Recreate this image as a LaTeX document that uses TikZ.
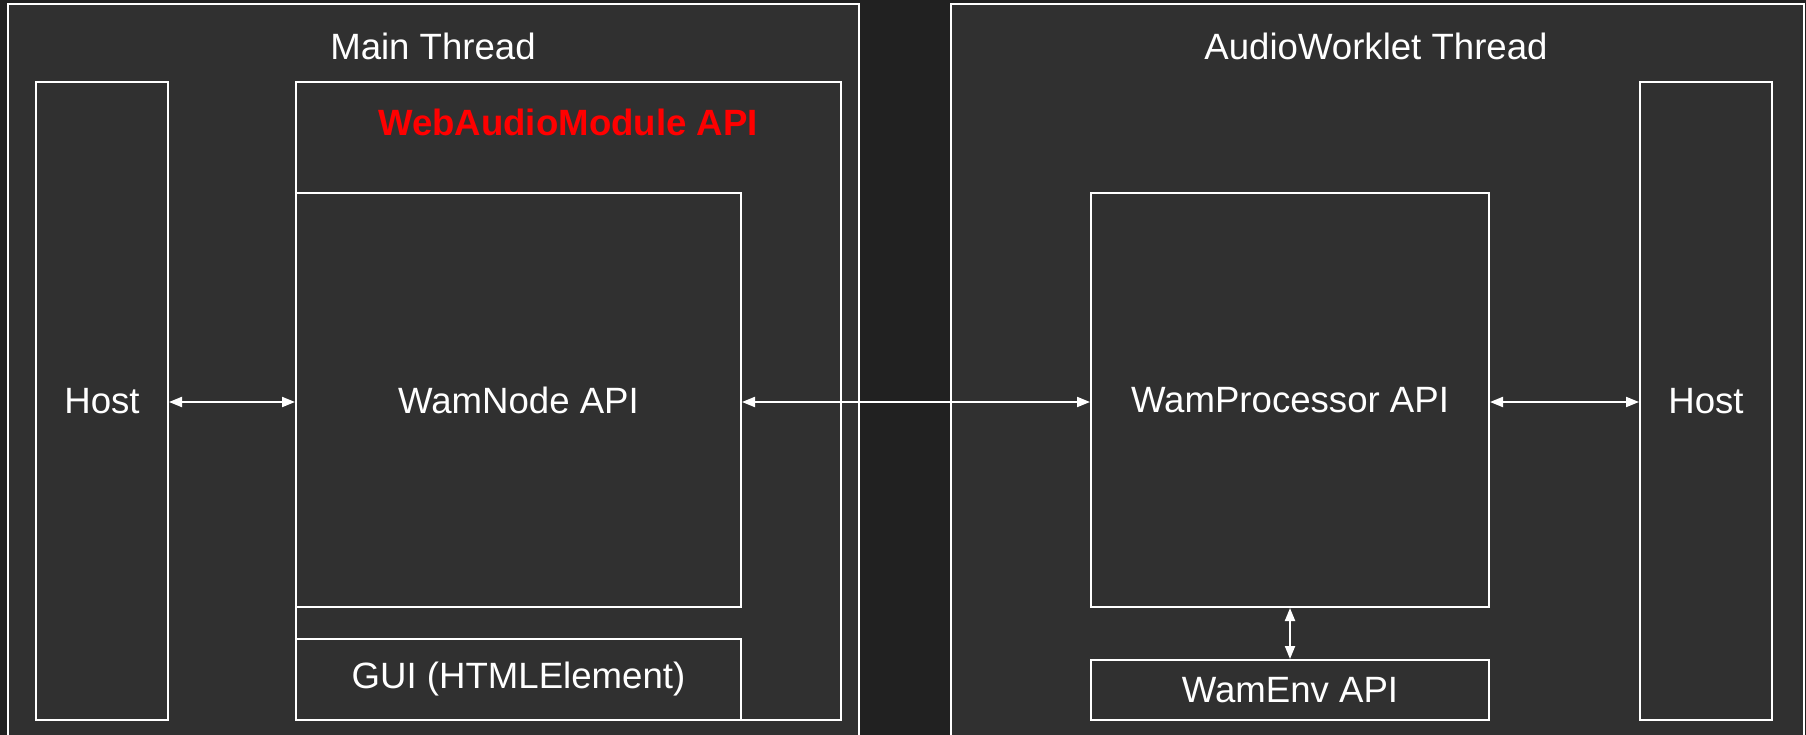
\documentclass[tikz,border=0pt]{standalone}
\usepackage{fontspec}
\setmainfont{Liberation Sans}
\usepackage{xcolor}
\usepackage{tikz}
\usetikzlibrary{arrows.meta}
\usetikzlibrary{positioning}

\definecolor{pagebg}{HTML}{212121}
\definecolor{panelbg}{HTML}{303030}
\definecolor{apired}{HTML}{FF0000}

\begin{document}
\begin{tikzpicture}[x=1pt, y=-1pt]
          \tikzstyle{every node}=[white,inner sep=0pt,font=\fontsize{36.6}{44}\selectfont]
          \tikzstyle{panel}=[draw=white,fill=panelbg,line width=2pt]
          \tikzstyle{box}=[draw=white,line width=2pt]
          \tikzstyle{link}=[white,line width=2pt,{Triangle[length=13pt,width=10pt]}-{Triangle[length=13pt,width=10pt]}]
          \fill[pagebg] (0,0) rectangle (1806,735) ;
          \useasboundingbox (0,0) rectangle (1806,735) ;
          % the two threads
          \node[panel,minimum width=851pt,minimum height=745pt] (main) at (433.5,376.5) {} ;
          \node[panel,minimum width=853pt,minimum height=745pt] (worklet) at (1377.5,376.5) {} ;
          \node (maintitle) at (433,46) {Main Thread} ;
          \node (worklettitle) at (1376,46) {AudioWorklet Thread} ;
          % main thread
          \node[box,minimum width=132pt,minimum height=638pt] (hostl) at (102,401) {Host} ;
          \node[box,minimum width=545pt,minimum height=638pt] (wam) at (568.5,401) {} ;
          \node[apired,font=\fontsize{36.6}{44}\selectfont\bfseries] (wamlabel) at (568,122) {WebAudioModule API} ;
          \node[box,minimum width=445pt,minimum height=414pt] (wamnode) at (518.5,400) {WamNode API} ;
          \node[box,minimum width=445pt,minimum height=81pt] (gui) at (518.5,679.5) {GUI (HTMLElement)} ;
          % audioworklet thread
          \node[box,minimum width=398pt,minimum height=414pt] (wamproc) at (1290,400) {WamProcessor API} ;
          \node[box,minimum width=398pt,minimum height=60pt] (wamenv) at (1290,690) {WamEnv API} ;
          \node[box,minimum width=132pt,minimum height=638pt] (hostr) at (1706,401) {Host} ;
          % links
          \draw[link] (hostl.east |- 0,402) -- (wamnode.west |- 0,402) ;
          \draw[link] (wamnode.east |- 0,402) -- (wamproc.west |- 0,402) ;
          \draw[link] (wamproc.east |- 0,402) -- (hostr.west |- 0,402) ;
          \draw[link] (wamproc.south) -- (wamenv.north) ;
\end{tikzpicture}
\end{document}
